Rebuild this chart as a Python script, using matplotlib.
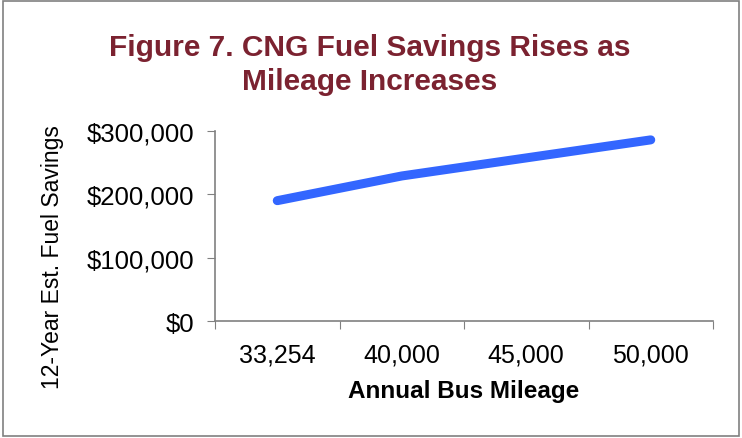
import matplotlib.pyplot as plt
from matplotlib.ticker import FuncFormatter
from matplotlib.patches import Rectangle

# annual mileage categories and 12-year savings
mileage = ["33,254", "40,000", "45,000", "50,000"]
savings = [190000, 229000, 257500, 286000]
y_ticks = [0, 100000, 200000, 300000]

plt.rcParams['font.family'] = ['Liberation Sans', 'DejaVu Sans']

W, H = 742, 439
fig = plt.figure(figsize=(W / 100, H / 100), dpi=100)
ax = fig.add_axes([215 / W, 1 - 322 / H, 498 / W, 190 / H])

x = list(range(len(mileage)))
ax.plot(x, savings, color='#3366FF', linewidth=6.5, solid_capstyle='round')

ax.set_xlim(-0.5, len(mileage) - 0.5)
ax.set_ylim(0, 300000)
ax.set_yticks(y_ticks)
ax.yaxis.set_major_formatter(FuncFormatter(lambda v, p: "${:,.0f}".format(v)))
# category boundaries get the tick marks, labels sit in between
ax.set_xticks([i + 0.5 for i in range(-1, len(mileage))])
ax.set_xticklabels([])
ax.set_xticks(x, minor=True)
ax.set_xticklabels(mileage, minor=True)
ax.tick_params(axis='x', which='minor', length=0, labelsize=18, pad=15.5)
ax.tick_params(axis='x', which='major', length=6, color='#808080', direction='out')
ax.tick_params(axis='y', length=6, color='#808080', labelsize=18.5, direction='out', pad=9)

for s in ['top', 'right']:
    ax.spines[s].set_visible(False)
for s in ['left', 'bottom']:
    ax.spines[s].set_color('#808080')
    ax.spines[s].set_linewidth(1.2)

fig.text(464 / W, 1 - 392 / H, "Annual Bus Mileage", ha='center', va='center',
         fontsize=17.5, fontweight='bold')
fig.text(53 / W, 1 - 257 / H, "12-Year Est. Fuel Savings", ha='center', va='center',
         rotation=90, fontsize=16.5)

fig.text(370 / W, 1 - 65 / H, "Figure 7. CNG Fuel Savings Rises as\nMileage Increases",
         ha='center', va='center', fontsize=21.5, fontweight='bold', color='#7B2230',
         linespacing=1.25)

fig.patches.append(Rectangle((0.004, 0.004), 0.992, 0.992, transform=fig.transFigure,
                             fill=False, edgecolor='#808080', linewidth=1.2))

fig.savefig("out.png", dpi=100)
